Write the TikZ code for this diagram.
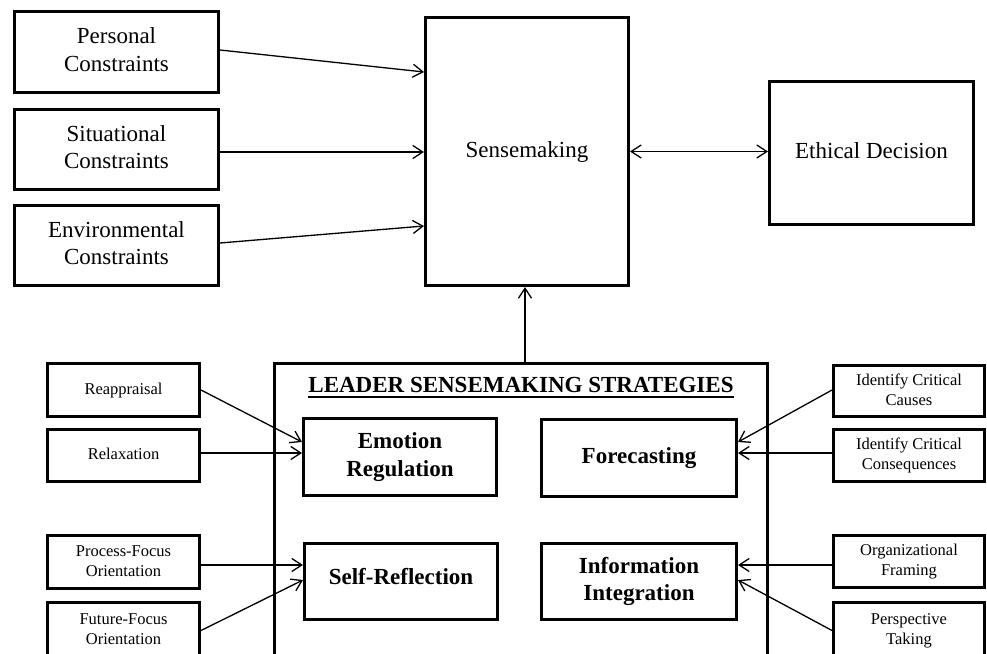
\documentclass[tikz,border=0pt]{standalone}
\usepackage{fontspec}
\setmainfont{Liberation Serif}
\usetikzlibrary{arrows.meta}
\newcommand\mytx[2]{\raisebox{#1}{\begin{tabular}{@{}c@{}}#2\end{tabular}}}
\begin{document}
\begin{tikzpicture}[x=1pt,y=-1pt,
  bx/.style={draw, rectangle, line width=3pt, inner sep=0pt},
  big/.style={font=\fontsize{23}{27.6}\selectfont},
  bigb/.style={font=\fontsize{23}{27.6}\selectfont\bfseries},
  sml/.style={font=\fontsize{16.5}{20}\selectfont},
  ar/.style={line width=1.3pt, -{Straight Barb[length=10pt,width=13pt]}},
  dar/.style={line width=1.3pt, {Straight Barb[length=10pt,width=13pt]}-{Straight Barb[length=10pt,width=13pt]}}]
\useasboundingbox (0,0) rectangle (987,653);
\clip (0,0) rectangle (987,653);
% top row
\node[bx,big,minimum width=204pt,minimum height=81pt] (pc) at (116.5,52) {\mytx{4pt}{Personal\\Constraints}};
\node[bx,big,minimum width=204pt,minimum height=80pt] (sc) at (116.5,149.5) {\mytx{4.7pt}{Situational\\Constraints}};
\node[bx,big,minimum width=204pt,minimum height=80pt] (ec) at (116.5,245.5) {\mytx{4.1pt}{Environmental\\Constraints}};
\node[bx,big,minimum width=203pt,minimum height=268pt] (sense) at (527,151.5) {\mytx{-3pt}{Sensemaking}};
\node[bx,big,minimum width=204pt,minimum height=143pt] (ed) at (871.5,153) {\mytx{6pt}{Ethical Decision}};
% strategies box
\node[bx,minimum width=493pt,minimum height=315pt] (lss) at (521,521) {};
\node[bigb,inner sep=0pt,anchor=base] (title) at (521,392.7) {LEADER SENSEMAKING STRATEGIES};
\draw[line width=2pt] ([yshift=-4pt]title.base west) -- ([yshift=-4pt]title.base east);
\node[bx,bigb,minimum width=193pt,minimum height=77pt] (er) at (400,457) {\mytx{2.2pt}{Emotion\\Regulation}};
\node[bx,bigb,minimum width=193pt,minimum height=76pt] (sr) at (401,581.5) {\mytx{13.6pt}{Self-Reflection}};
\node[bx,bigb,minimum width=195pt,minimum height=77pt] (fc) at (639,458) {\mytx{5pt}{Forecasting}};
\node[bx,bigb,minimum width=195pt,minimum height=76pt] (ii) at (639,581.5) {\mytx{1.7pt}{Information\\Integration}};
% left small boxes
\node[bx,sml,minimum width=152pt,minimum height=53pt] (rp) at (123.5,390) {\mytx{0pt}{Reappraisal}};
\node[bx,sml,minimum width=152pt,minimum height=52pt] (rl) at (123.5,455.5) {\mytx{0pt}{Relaxation}};
\node[bx,sml,minimum width=152pt,minimum height=53pt] (pf) at (123.5,562) {\mytx{-2.3pt}{Process-Focus\\Orientation}};
\node[bx,sml,minimum width=152pt,minimum height=56pt] (ff) at (123.5,630.5) {\mytx{0.5pt}{Future-Focus\\Orientation}};
% right small boxes
\node[bx,sml,minimum width=151pt,minimum height=51pt] (icc) at (909,391) {\mytx{-2.3pt}{Identify Critical\\Causes}};
\node[bx,sml,minimum width=151pt,minimum height=52pt] (icq) at (909,455.5) {\mytx{-2.2pt}{Identify Critical\\Consequences}};
\node[bx,sml,minimum width=151pt,minimum height=52pt] (of) at (909,561.5) {\mytx{-2.8pt}{Organizational\\Framing}};
\node[bx,sml,minimum width=151pt,minimum height=56pt] (pt) at (909,630.5) {\mytx{0.5pt}{Perspective\\Taking}};
% connectors top
\draw[ar] ([yshift=2pt]pc.east) -- ([yshift=79.5pt]sense.west);
\draw[ar] ([yshift=-2.5pt]sc.east) -- ([yshift=-2.5pt]sc.east -| sense.west);
\draw[ar] ([yshift=2.5pt]ec.east) -- ([yshift=-74.5pt]sense.west);
\draw[dar] (sense.east) -- (sense.east -| ed.west);
\draw[ar] ([xshift=-2pt]sense.south |- lss.north) -- ([xshift=-2pt]sense.south);
% connectors bottom left
\draw[ar] (rp.east) -- ([yshift=15pt]er.west);
\draw[ar] ([yshift=2.5pt]rl.east) -- ([yshift=2.5pt]rl.east -| er.west);
\draw[ar] ([yshift=-3pt]pf.east) -- ([yshift=-3pt]pf.east -| sr.west);
\draw[ar] (ff.east) -- ([yshift=1.5pt]sr.west);
% connectors bottom right
\draw[ar] ([yshift=1pt]icc.west) -- ([yshift=16pt]fc.east);
\draw[ar] ([yshift=2.5pt]icq.west) -- ([yshift=2.5pt]icq.west -| fc.east);
\draw[ar] ([yshift=-3.5pt]of.west) -- ([yshift=-3.5pt]of.west -| ii.east);
\draw[ar] (pt.west) -- ([yshift=1.5pt]ii.east);
\end{tikzpicture}
\end{document}
